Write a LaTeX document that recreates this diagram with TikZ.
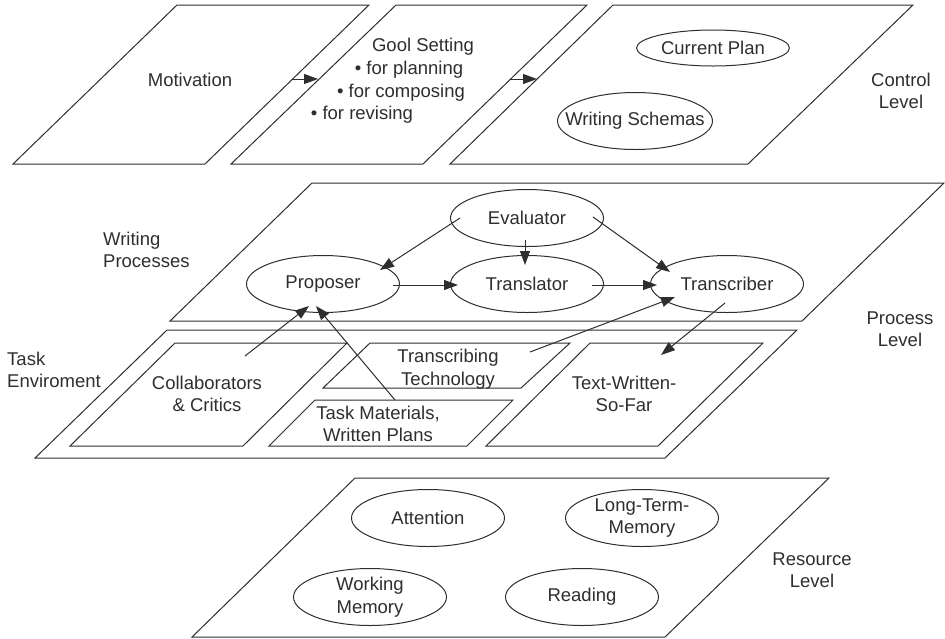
\documentclass[tikz,border=0pt]{standalone}
\usepackage{fontspec}
\setmainfont{Liberation Sans}
\usetikzlibrary{arrows.meta,calc,shapes.geometric}
\definecolor{ink}{HTML}{2E2E2E}
\begin{document}
\begin{tikzpicture}[x=1pt,y=-1pt,
  plane/.style={draw=ink,line width=1pt,line join=miter},
  ell/.style={draw=ink,line width=1pt,ellipse,minimum width=153pt,minimum height=57pt,inner sep=0pt},
  txt/.style={text=ink,font=\fontsize{18.5}{22.5}\selectfont,align=center,inner sep=0pt},
  ltxt/.style={txt,align=left,anchor=west},
  arr/.style={draw=ink,line width=1pt,-{Triangle[length=14pt,width=10pt]}}]
\useasboundingbox (0,0) rectangle (945,638);

% ---------- Control level ----------
\draw[plane] (177,5) -- (369,5) -- (205,164) -- (13,164) -- cycle;
\draw[plane] (396,5) -- (587,5) -- (423,164) -- (231,164) -- cycle;
\draw[plane] (613,5) -- (913,5) -- (748,164) -- (450,164) -- cycle;

\node[txt] (mot) at (190,80) {Motivation};
\node[txt] (gool) at (423,47) {Gool Setting};
\node[txt] (g1) at (409,70) {\textbullet\ for planning};
\node[txt] (g2) at (401,93) {\textbullet\ for composing};
\node[txt] (g3) at (362,115) {\textbullet\ for revising};

\node[ell,minimum height=36pt] (cp) at (713,48) {};
\node[txt] at (cp) {Current Plan};
\node[ell,minimum width=155pt] (ws) at (635,121) {};
\node[txt] at (ws) {Writing Schemas};

\node[txt] (ctl) at (901,91) {Control\\Level};

\coordinate (m1) at (292,79);
\coordinate (m2) at (318,79);
\coordinate (g4) at (510,79);
\coordinate (g5) at (537,79);
\draw[arr] (m1) -- (m2);
\draw[arr] (g4) -- (g5);

% ---------- Process level ----------
\draw[plane] (312,183) -- (944,183) -- (802,321) -- (170,321) -- cycle;
\node[ltxt] (wp) at (103,250) {Writing\\Processes};

\node[ell] (ev) at (527,218) {};
\node[txt] at (ev) {Evaluator};
\node[ell] (prop) at (323,284) {};
\node[txt] at (prop) {Proposer};
\node[ell] (tr) at (527,284) {};
\node[txt] at (tr) {Translator};
\node[ell] (tb) at (727,284) {};
\node[txt] at (tb) {Transcriber};

\node[txt] (pl) at (900,329) {Process\\Level};

% Task environment
\draw[plane] (167,330) -- (797,330) -- (665,458) -- (35,458) -- cycle;
\draw[plane] (175,343) -- (347,343) -- (243,446) -- (70,446) -- cycle;
\draw[plane] (370,343) -- (570,343) -- (521,388) -- (323,388) -- cycle;
\draw[plane] (315,400) -- (513,400) -- (467,446) -- (269,446) -- cycle;
\draw[plane] (590,343) -- (763,343) -- (658,446) -- (486,446) -- cycle;

\node[ltxt] (te) at (7,370) {Task\\Enviroment};
\node[txt] (collab) at (207,394) {Collaborators\\\& Critics};
\node[txt] (ttech) at (448,369) {Transcribing\\Technology};
\node[txt] (tmat) at (378,424) {Task Materials,\\Written Plans};
\node[txt] (tws) at (624,394) {Text-Written-\\So-Far};

% arrows
\draw[arr] ($(ev)+(-67,0)$) -- ($(prop)+(57,-14)$);
\draw[arr] ($(ev)+(-2,22)$) -- ($(tr)+(-2,-19)$);
\draw[arr] ($(ev)+(66,-1)$) -- ($(tb)+(-57,-12)$);
\draw[arr] ($(prop)+(70,1)$) -- ($(tr)+(-69,1)$);
\draw[arr] ($(tr)+(65,1)$) -- ($(tb)+(-70,1)$);
\draw[arr] ($(ttech)+(82,-17)$) -- ($(tb)+(-52,13)$);
\draw[arr] ($(tb)+(-2,19)$) -- ($(tws)+(37,-39)$);
\draw[arr] ($(collab)+(38,-38)$) -- ($(prop)+(-14,22)$);
\draw[arr] ($(tmat)+(17,-24)$) -- ($(prop)+(-7,22)$);

% ---------- Resource level ----------
\draw[plane] (355,478) -- (829,478) -- (665,637) -- (192,637) -- cycle;
\node[ell] (att) at (428,518) {};
\node[txt] at (att) {Attention};
\node[ell] (ltm) at (642,518) {};
\node[txt] at (ltm) {Long-Term-\\Memory};
\node[ell] (wm) at (370,597) {};
\node[txt] at (wm) {Working\\Memory};
\node[ell] (rd) at (582,597) {};
\node[txt] at (rd) {Reading};

\node[txt] (rl) at (812,570) {Resource\\Level};
\end{tikzpicture}
\end{document}
